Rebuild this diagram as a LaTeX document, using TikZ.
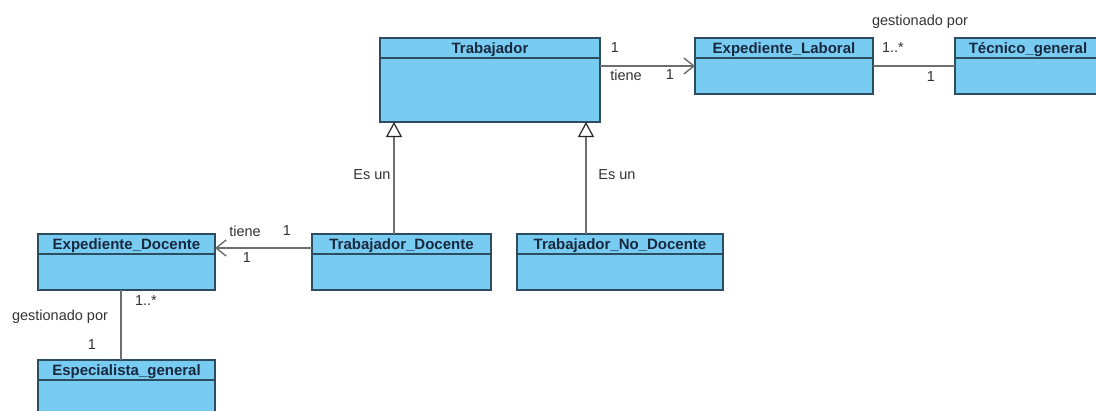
\documentclass[tikz,border=0pt]{standalone}
\usepackage{fontspec}
\setmainfont{Liberation Sans}
\usetikzlibrary{arrows.meta}

\definecolor{classfill}{HTML}{79CCF1}
\definecolor{classedge}{HTML}{2C4C60}
\definecolor{titleink}{HTML}{18283F}
\definecolor{linkgray}{HTML}{6E6E6E}
\definecolor{labelink}{HTML}{333333}

\tikzset{
  classbox/.style={draw=classedge, fill=classfill, line width=1.5pt,
    rectangle, inner sep=0pt, outer sep=0pt},
  classsep/.style={draw=classedge, line width=1.3pt},
  classtitle/.style={font=\fontsize{15}{15}\selectfont\bfseries,
    text=titleink, inner sep=0pt, anchor=base},
  lbl/.style={font=\fontsize{14.5}{15}\selectfont, text=labelink, inner sep=0pt},
  assoc/.style={draw=linkgray, line width=1.8pt},
  navig/.style={assoc, -{Straight Barb[length=10pt,width=16pt,line width=1.4pt]}},
  generalize/.style={assoc, -{Triangle[open,fill=white,color=black!85,
      length=15pt,width=16pt,line width=1.2pt]}}
}

% name, left, top, width, height, title
\newcommand{\umlclass}[6]{%
  \node[classbox, minimum width=#4pt, minimum height=#5pt,
        anchor=north west] (#1) at (#2,#3) {};
  \draw[classsep] ([yshift=-20pt]#1.north west) -- ([yshift=-20pt]#1.north east);
  \node[classtitle] at ([yshift=-15.5pt]#1.north) {#6};
}

\begin{document}
\begin{tikzpicture}[x=1pt,y=-1pt]
\clip (0,0) rectangle (1096,410);
\fill[white] (0,0) rectangle (1096,410);

% classes
\umlclass{trab}{380}{38}{220}{84}{Trabajador}
\umlclass{expl}{695}{38}{178}{56}{Expediente\_Laboral}
\umlclass{tecg}{955}{38}{146}{56}{Técnico\_general}
\umlclass{expd}{38}{234}{177}{56}{Expediente\_Docente}
\umlclass{trd}{312}{234}{179}{56}{Trabajador\_Docente}
\umlclass{trnd}{517}{234}{206}{56}{Trabajador\_No\_Docente}
\umlclass{espg}{38}{360}{177}{56}{Especialista\_general}

% associations
\draw[navig] (trab.east |- expl.west) -- (expl.west);
\draw[assoc] (expl.east) -- (tecg.west);
\draw[navig] ([yshift=14pt]trd.west) -- ([yshift=14pt]trd.west -| expd.east);
\draw[assoc] ([xshift=-5.5pt]expd.south) -- ([xshift=-5.5pt]expd.south |- espg.north);

% generalizations
\draw[generalize] ([xshift=-7.5pt]trd.north) -- ([xshift=-7.5pt]trd.north |- trab.south);
\draw[generalize] ([xshift=-34pt]trnd.north) -- ([xshift=-34pt]trnd.north |- trab.south);

% labels
\node[lbl] at (615,48) {1};
\node[lbl] at (626,75) {tiene};
\node[lbl] at (670,75) {1};
\node[lbl] at (920,22) {gestionado por};
\node[lbl] at (893,48) {1..*};
\node[lbl] at (931,77) {1};
\node[lbl] at (245,231) {tiene};
\node[lbl] at (287,231) {1};
\node[lbl] at (247,258) {1};
\node[lbl] at (146,301) {1..*};
\node[lbl] at (60,317) {gestionado por};
\node[lbl] at (92,345) {1};
\node[lbl] at (372,175) {Es un};
\node[lbl] at (617,175) {Es un};
\end{tikzpicture}
\end{document}
